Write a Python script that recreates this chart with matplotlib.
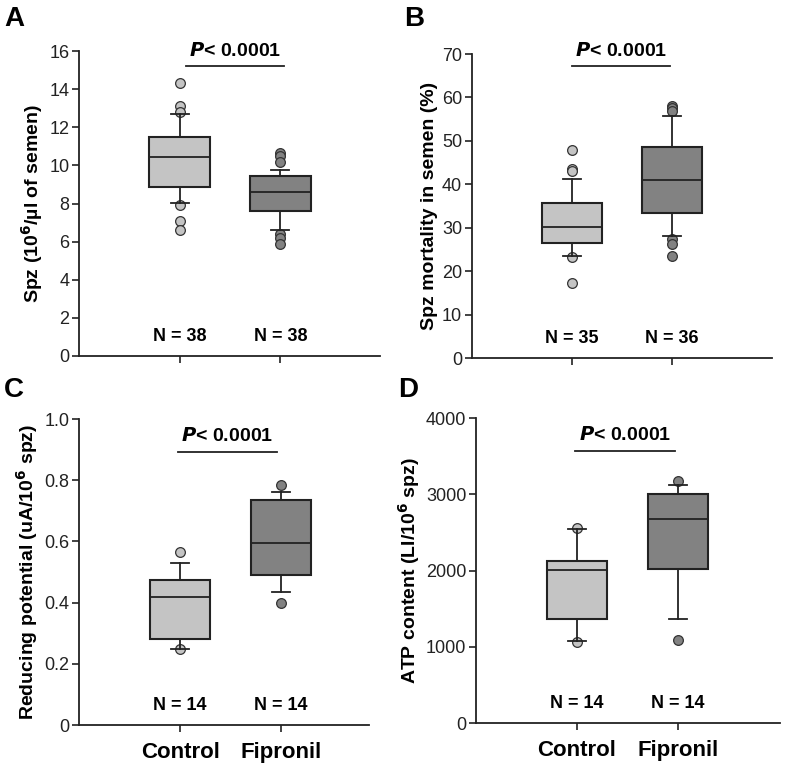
import matplotlib.pyplot as plt
import matplotlib.transforms as mtransforms

plt.rcParams['font.family'] = ['Liberation Sans', 'DejaVu Sans']

groups = ["Control", "Fipronil"]
n_labels = [["N = 38", "N = 38"], ["N = 35", "N = 36"],
            ["N = 14", "N = 14"], ["N = 14", "N = 14"]]
p_text = "< 0.0001"

# box stats per panel: (q1, median, q3, whisker low, whisker high, outliers)
spz_ctrl = (8.85, 10.45, 11.5, 8.05, 12.7, [14.3, 13.1, 12.8, 7.9, 7.1, 6.6])
spz_fip = (7.6, 8.6, 9.45, 6.6, 9.75, [10.65, 10.5, 10.2, 6.4, 6.2, 5.85])
mort_ctrl = (26.5, 30.2, 35.8, 23.5, 41.2, [48.0, 43.5, 43.0, 23.3, 17.2])
mort_fip = (33.5, 41.0, 48.5, 28.2, 55.7, [58.0, 57.5, 56.8, 27.5, 26.3, 23.5])
red_ctrl = (0.282, 0.418, 0.475, 0.25, 0.53, [0.565, 0.248])
red_fip = (0.49, 0.595, 0.735, 0.435, 0.762, [0.785, 0.398])
atp_ctrl = (1370, 2005, 2130, 1080, 2550, [2560, 1060])
atp_fip = (2020, 2670, 3000, 1370, 3120, [3170, 1090])

ylabels = ["Spz (10$^{\\mathbf{6}}$/\u00b5l of semen)",
           "Spz mortality in semen (%)",
           "Reducing potential (uA/10$^{\\mathbf{6}}$ spz)",
           "ATP content (LI/10$^{\\mathbf{6}}$ spz)"]
yticks = [list(range(0, 17, 2)), list(range(0, 71, 10)),
          [0, 0.2, 0.4, 0.6, 0.8, 1.0], [0, 1000, 2000, 3000, 4000]]
yticklabels = [[str(v) for v in yticks[0]], [str(v) for v in yticks[1]],
               ["0", "0.2", "0.4", "0.6", "0.8", "1.0"],
               [str(v) for v in yticks[3]]]
ylims = [16, 70, 1.0, 4000]
bracket_y = [15.2, 67.2, 0.892, 3567]
bracket_x = [(1.06, 2.04), (1.0, 1.98), (0.98, 1.96), (0.98, 1.97)]
letters = ["A", "B", "C", "D"]

data = [(spz_ctrl, spz_fip), (mort_ctrl, mort_fip),
        (red_ctrl, red_fip), (atp_ctrl, atp_fip)]

# axes rectangles in figure fraction
rects = [[0.1004, 0.5377, 0.3824, 0.396],
         [0.5997, 0.535, 0.3812, 0.3948],
         [0.1004, 0.0584, 0.3685, 0.3974],
         [0.6048, 0.0610, 0.3863, 0.396]]
xmaxs = [2.99, 3.0, 2.87, 3.01]
letter_pos = [(0.005, 0.992), (0.513, 0.992), (0.005, 0.51), (0.506, 0.51)]

box_colors = ["#c4c4c4", "#828282"]
edge = "#222222"

fig = plt.figure(figsize=(7.87, 7.70), dpi=100)

for i in range(4):
    ax = fig.add_axes(rects[i])
    stats = []
    for s in data[i]:
        q1, med, q3, lo, hi, fl = s
        stats.append(dict(q1=q1, med=med, q3=q3, whislo=lo, whishi=hi, fliers=fl))
    bp = ax.bxp(stats, positions=[1, 2], widths=0.6, patch_artist=True,
                showfliers=True,
                boxprops=dict(edgecolor=edge, linewidth=1.5),
                medianprops=dict(color=edge, linewidth=1.3),
                whiskerprops=dict(color=edge, linewidth=1.3),
                capprops=dict(color=edge, linewidth=1.3),
                capwidths=0.18)
    for k, patch in enumerate(bp['boxes']):
        patch.set_facecolor(box_colors[k])
    for k, fl in enumerate(bp['fliers']):
        fl.set(marker='o', markerfacecolor=box_colors[k], markeredgecolor="#333333",
               markersize=7, markeredgewidth=0.9, zorder=1)
    for c in bp['caps']:
        c.set_zorder(3)

    ax.set_xlim(0, xmaxs[i])
    ax.set_ylim(0, ylims[i])
    ax.set_yticks(yticks[i])
    ax.set_yticklabels(yticklabels[i])
    ax.set_xticks([1, 2])
    if i >= 2:
        ax.set_xticklabels(groups, fontsize=16, fontweight='bold')
    else:
        ax.set_xticklabels(["", ""])
    ax.tick_params(axis='y', labelsize=13, length=5, width=1.2, colors="#222222",
                   labelcolor="#222222", pad=2)
    ax.tick_params(axis='x', length=5, width=1.2, colors="#222222", pad=7,
                   labelcolor="black")
    for side in ['top', 'right']:
        ax.spines[side].set_visible(False)
    for side in ['left', 'bottom']:
        ax.spines[side].set_linewidth(1.3)
        ax.spines[side].set_color("#222222")

    ax.set_ylabel(ylabels[i], fontsize=14, fontweight='bold', labelpad=3)

    # significance bracket
    ax.plot(bracket_x[i], [bracket_y[i]] * 2, color="#222222", lw=1.3, clip_on=False)
    ax.text(sum(bracket_x[i]) / 2, bracket_y[i] + ylims[i] * 0.022,
            "$\\mathbfit{P}$" + p_text,
            ha='center', va='bottom', fontsize=14, fontweight='bold')

    # group sizes
    trans = mtransforms.blended_transform_factory(ax.transData, ax.transAxes)
    for k in range(2):
        ax.text(k + 1, 0.035, n_labels[i][k], transform=trans, ha='center',
                va='bottom', fontsize=13, fontweight='bold')

    fig.text(letter_pos[i][0], letter_pos[i][1], letters[i], fontsize=20,
             fontweight='bold', ha='left', va='top')

fig.savefig("out.png", dpi=100)
